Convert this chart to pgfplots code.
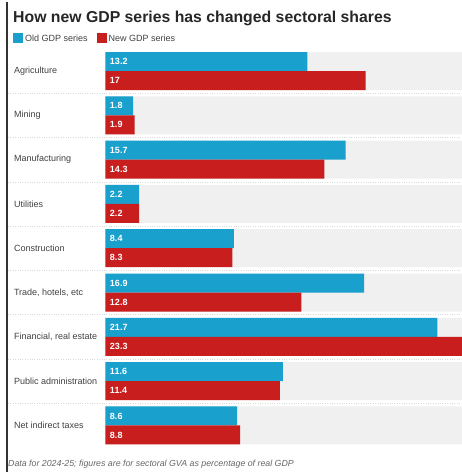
\documentclass[border=0pt]{standalone}
\usepackage{fontspec}
\setmainfont{Liberation Sans}
\usepackage{pgfplots}
\pgfplotsset{compat=1.18}
\usepackage{pgfplotstable}
\definecolor{oldblue}{HTML}{1AA0CD}
\definecolor{newred}{HTML}{C81E1E}
\definecolor{band}{HTML}{F0F0F0}
\pgfplotstableread{
idx old new
0 13.2 17
1 1.8 1.9
2 15.7 14.3
3 2.2 2.2
4 8.4 8.3
5 16.9 12.8
6 21.7 23.3
7 11.6 11.4
8 8.6 8.8
}\datatable
\begin{document}
\begin{tikzpicture}
\path[use as bounding box] (0pt,0pt) rectangle (462pt,-472pt);
\begin{axis}[
  at={(8pt,-48.85pt)}, anchor=north west,
  x=15.3pt, y=44.3pt, y dir=reverse,
  xmin=-6.37, xmax=23.3, ymin=-0.5, ymax=8.5,
  axis line style={draw=none},
  xtick=\empty,
  ytick={0,...,8},
  yticklabels={Agriculture, Mining, Manufacturing, Utilities, Construction, {Trade, hotels, etc}, {Financial, real estate}, Public administration, Net indirect taxes},
  yticklabel style={anchor=west, xshift=2.5pt, font=\fontsize{9}{10}\selectfont, text=black!75},
  major tick length=0pt, minor tick length=0pt,
  minor ytick={0.5,1.5,...,7.5},
  yminorgrids=true,
  minor grid style={black!15, dotted},
  clip=false,
  legend columns=2,
  legend style={at={(0.011,1.026)}, anchor=west, draw=none, fill=none, inner sep=0pt,
    font=\fontsize{9}{10}\selectfont, text=black!75,
    /tikz/every even column/.append style={column sep=7pt}},
  legend image code/.code={\fill[#1] (0pt,-5pt) rectangle (10pt,5pt);},
]
\addplot[xbar, bar width=38pt, bar shift=0pt, fill=band, draw=none, forget plot]
  coordinates {(23.3,0) (23.3,1) (23.3,2) (23.3,3) (23.3,4) (23.3,5) (23.3,6) (23.3,7) (23.3,8)};
\addplot[xbar, bar width=19pt, bar shift=9.5pt, fill=oldblue, draw=none] table[x=old, y=idx]{\datatable};
\addplot[xbar, bar width=19pt, bar shift=-9.5pt, fill=newred, draw=none] table[x=new, y=idx]{\datatable};
\addplot[xbar, bar width=19pt, bar shift=9.5pt, draw=none, fill=none, forget plot,
  nodes near coords, point meta=explicit symbolic,
  nodes near coords style={anchor=west, yshift=9.5pt, xshift=1pt, text=white, font=\bfseries\fontsize{9}{10}\selectfont}]
  table[x expr=0, y=idx, meta=old]{\datatable};
\addplot[xbar, bar width=19pt, bar shift=-9.5pt, draw=none, fill=none, forget plot,
  nodes near coords, point meta=explicit symbolic,
  nodes near coords style={anchor=west, yshift=-9.5pt, xshift=1pt, text=white, font=\bfseries\fontsize{9}{10}\selectfont}]
  table[x expr=0, y=idx, meta=new]{\datatable};
\legend{Old GDP series, New GDP series}
\end{axis}
\node[anchor=base west, font=\bfseries\fontsize{15.8}{17}\selectfont, text=black!85, inner sep=0pt] at (13pt,-22pt) {How new GDP series has changed sectoral shares};
\node[anchor=base west, font=\itshape\fontsize{8.8}{10}\selectfont, text=black!60, inner sep=0pt] at (8pt,-466pt) {Data for 2024-25; figures are for sectoral GVA as percentage of real GDP};
\draw[line width=2pt, black!80] (7pt,-2pt) -- (7pt,-472pt);
\end{tikzpicture}
\end{document}
